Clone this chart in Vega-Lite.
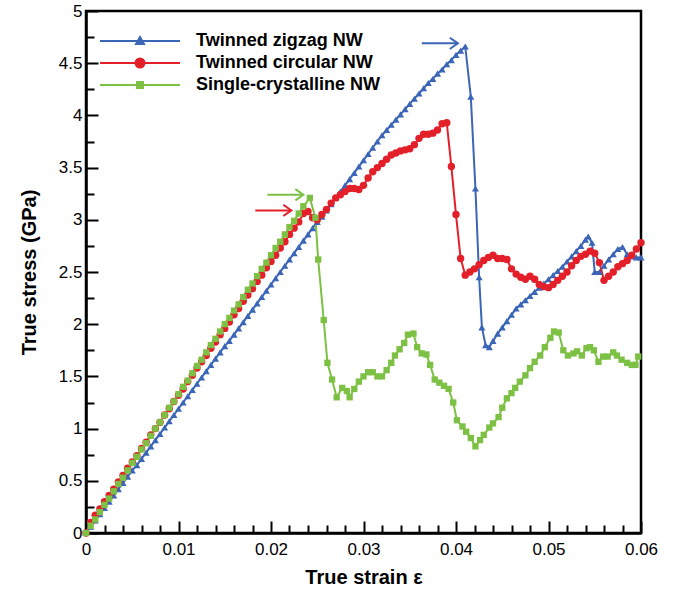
{
"$schema": "https://vega.github.io/schema/vega-lite/v6.json",
"width": 555, "height": 522,
"autosize": {"type": "none"},
"padding": {"left": 86, "top": 11, "right": 36, "bottom": 56},
"background": "white",
"config": {"view": {"stroke": "black", "strokeWidth": 2.5}, "font": "Liberation Sans"},
"datasets": {
"arrows": [
{"series":"Twinned zigzag NW","x1":0.0363,"x2":0.0402,"y":4.69},
{"series":"Twinned circular NW","x1":0.0183,"x2":0.0222,"y":3.09},
{"series":"Single-crystalline NW","x1":0.0196,"x2":0.0235,"y":3.24}
],
"curves": [
{"series":"Twinned zigzag NW","strain":0,"stress":0},
{"series":"Twinned zigzag NW","strain":0.0005,"stress":0.06},
{"series":"Twinned zigzag NW","strain":0.001,"stress":0.12},
{"series":"Twinned zigzag NW","strain":0.0015,"stress":0.18},
{"series":"Twinned zigzag NW","strain":0.002,"stress":0.24},
{"series":"Twinned zigzag NW","strain":0.0025,"stress":0.30},
{"series":"Twinned zigzag NW","strain":0.003,"stress":0.36},
{"series":"Twinned zigzag NW","strain":0.0035,"stress":0.42},
{"series":"Twinned zigzag NW","strain":0.004,"stress":0.48},
{"series":"Twinned zigzag NW","strain":0.0045,"stress":0.54},
{"series":"Twinned zigzag NW","strain":0.005,"stress":0.60},
{"series":"Twinned zigzag NW","strain":0.0055,"stress":0.65},
{"series":"Twinned zigzag NW","strain":0.006,"stress":0.71},
{"series":"Twinned zigzag NW","strain":0.0065,"stress":0.77},
{"series":"Twinned zigzag NW","strain":0.007,"stress":0.83},
{"series":"Twinned zigzag NW","strain":0.0075,"stress":0.89},
{"series":"Twinned zigzag NW","strain":0.008,"stress":0.95},
{"series":"Twinned zigzag NW","strain":0.0085,"stress":1.01},
{"series":"Twinned zigzag NW","strain":0.009,"stress":1.07},
{"series":"Twinned zigzag NW","strain":0.0095,"stress":1.13},
{"series":"Twinned zigzag NW","strain":0.01,"stress":1.19},
{"series":"Twinned zigzag NW","strain":0.0105,"stress":1.25},
{"series":"Twinned zigzag NW","strain":0.011,"stress":1.31},
{"series":"Twinned zigzag NW","strain":0.0115,"stress":1.37},
{"series":"Twinned zigzag NW","strain":0.012,"stress":1.43},
{"series":"Twinned zigzag NW","strain":0.0125,"stress":1.49},
{"series":"Twinned zigzag NW","strain":0.013,"stress":1.55},
{"series":"Twinned zigzag NW","strain":0.0135,"stress":1.61},
{"series":"Twinned zigzag NW","strain":0.014,"stress":1.67},
{"series":"Twinned zigzag NW","strain":0.0145,"stress":1.73},
{"series":"Twinned zigzag NW","strain":0.015,"stress":1.79},
{"series":"Twinned zigzag NW","strain":0.0155,"stress":1.84},
{"series":"Twinned zigzag NW","strain":0.016,"stress":1.90},
{"series":"Twinned zigzag NW","strain":0.0165,"stress":1.96},
{"series":"Twinned zigzag NW","strain":0.017,"stress":2.02},
{"series":"Twinned zigzag NW","strain":0.0175,"stress":2.08},
{"series":"Twinned zigzag NW","strain":0.018,"stress":2.14},
{"series":"Twinned zigzag NW","strain":0.0185,"stress":2.20},
{"series":"Twinned zigzag NW","strain":0.019,"stress":2.26},
{"series":"Twinned zigzag NW","strain":0.0195,"stress":2.32},
{"series":"Twinned zigzag NW","strain":0.02,"stress":2.38},
{"series":"Twinned zigzag NW","strain":0.0205,"stress":2.44},
{"series":"Twinned zigzag NW","strain":0.021,"stress":2.50},
{"series":"Twinned zigzag NW","strain":0.0215,"stress":2.56},
{"series":"Twinned zigzag NW","strain":0.022,"stress":2.62},
{"series":"Twinned zigzag NW","strain":0.0225,"stress":2.68},
{"series":"Twinned zigzag NW","strain":0.023,"stress":2.74},
{"series":"Twinned zigzag NW","strain":0.0235,"stress":2.80},
{"series":"Twinned zigzag NW","strain":0.024,"stress":2.86},
{"series":"Twinned zigzag NW","strain":0.0245,"stress":2.92},
{"series":"Twinned zigzag NW","strain":0.025,"stress":2.98},
{"series":"Twinned zigzag NW","strain":0.0255,"stress":3.03},
{"series":"Twinned zigzag NW","strain":0.026,"stress":3.09},
{"series":"Twinned zigzag NW","strain":0.0265,"stress":3.15},
{"series":"Twinned zigzag NW","strain":0.027,"stress":3.21},
{"series":"Twinned zigzag NW","strain":0.0275,"stress":3.27},
{"series":"Twinned zigzag NW","strain":0.028,"stress":3.33},
{"series":"Twinned zigzag NW","strain":0.0285,"stress":3.39},
{"series":"Twinned zigzag NW","strain":0.029,"stress":3.45},
{"series":"Twinned zigzag NW","strain":0.0295,"stress":3.51},
{"series":"Twinned zigzag NW","strain":0.03,"stress":3.57},
{"series":"Twinned zigzag NW","strain":0.0305,"stress":3.63},
{"series":"Twinned zigzag NW","strain":0.031,"stress":3.69},
{"series":"Twinned zigzag NW","strain":0.0315,"stress":3.75},
{"series":"Twinned zigzag NW","strain":0.032,"stress":3.81},
{"series":"Twinned zigzag NW","strain":0.0325,"stress":3.86},
{"series":"Twinned zigzag NW","strain":0.033,"stress":3.91},
{"series":"Twinned zigzag NW","strain":0.0335,"stress":3.96},
{"series":"Twinned zigzag NW","strain":0.034,"stress":4.01},
{"series":"Twinned zigzag NW","strain":0.0345,"stress":4.06},
{"series":"Twinned zigzag NW","strain":0.035,"stress":4.11},
{"series":"Twinned zigzag NW","strain":0.0355,"stress":4.16},
{"series":"Twinned zigzag NW","strain":0.036,"stress":4.21},
{"series":"Twinned zigzag NW","strain":0.0365,"stress":4.26},
{"series":"Twinned zigzag NW","strain":0.037,"stress":4.31},
{"series":"Twinned zigzag NW","strain":0.0375,"stress":4.35},
{"series":"Twinned zigzag NW","strain":0.038,"stress":4.40},
{"series":"Twinned zigzag NW","strain":0.0385,"stress":4.44},
{"series":"Twinned zigzag NW","strain":0.039,"stress":4.49},
{"series":"Twinned zigzag NW","strain":0.0395,"stress":4.53},
{"series":"Twinned zigzag NW","strain":0.04,"stress":4.58},
{"series":"Twinned zigzag NW","strain":0.0405,"stress":4.62},
{"series":"Twinned zigzag NW","strain":0.041,"stress":4.66},
{"series":"Twinned zigzag NW","strain":0.0416,"stress":4.18},
{"series":"Twinned zigzag NW","strain":0.0421,"stress":3.30},
{"series":"Twinned zigzag NW","strain":0.0425,"stress":2.45},
{"series":"Twinned zigzag NW","strain":0.0428,"stress":1.97},
{"series":"Twinned zigzag NW","strain":0.0432,"stress":1.80},
{"series":"Twinned zigzag NW","strain":0.0436,"stress":1.78},
{"series":"Twinned zigzag NW","strain":0.044,"stress":1.84},
{"series":"Twinned zigzag NW","strain":0.0445,"stress":1.91},
{"series":"Twinned zigzag NW","strain":0.045,"stress":1.97},
{"series":"Twinned zigzag NW","strain":0.0455,"stress":2.03},
{"series":"Twinned zigzag NW","strain":0.046,"stress":2.09},
{"series":"Twinned zigzag NW","strain":0.0465,"stress":2.15},
{"series":"Twinned zigzag NW","strain":0.047,"stress":2.19},
{"series":"Twinned zigzag NW","strain":0.0475,"stress":2.23},
{"series":"Twinned zigzag NW","strain":0.048,"stress":2.27},
{"series":"Twinned zigzag NW","strain":0.0485,"stress":2.31},
{"series":"Twinned zigzag NW","strain":0.049,"stress":2.35},
{"series":"Twinned zigzag NW","strain":0.0495,"stress":2.39},
{"series":"Twinned zigzag NW","strain":0.05,"stress":2.43},
{"series":"Twinned zigzag NW","strain":0.0505,"stress":2.47},
{"series":"Twinned zigzag NW","strain":0.051,"stress":2.51},
{"series":"Twinned zigzag NW","strain":0.0515,"stress":2.55},
{"series":"Twinned zigzag NW","strain":0.052,"stress":2.60},
{"series":"Twinned zigzag NW","strain":0.0525,"stress":2.65},
{"series":"Twinned zigzag NW","strain":0.053,"stress":2.70},
{"series":"Twinned zigzag NW","strain":0.0535,"stress":2.75},
{"series":"Twinned zigzag NW","strain":0.054,"stress":2.81},
{"series":"Twinned zigzag NW","strain":0.0543,"stress":2.84},
{"series":"Twinned zigzag NW","strain":0.0547,"stress":2.78},
{"series":"Twinned zigzag NW","strain":0.055,"stress":2.50},
{"series":"Twinned zigzag NW","strain":0.0555,"stress":2.50},
{"series":"Twinned zigzag NW","strain":0.056,"stress":2.56},
{"series":"Twinned zigzag NW","strain":0.0565,"stress":2.62},
{"series":"Twinned zigzag NW","strain":0.057,"stress":2.67},
{"series":"Twinned zigzag NW","strain":0.0575,"stress":2.72},
{"series":"Twinned zigzag NW","strain":0.058,"stress":2.74},
{"series":"Twinned zigzag NW","strain":0.0585,"stress":2.67},
{"series":"Twinned zigzag NW","strain":0.059,"stress":2.65},
{"series":"Twinned zigzag NW","strain":0.0595,"stress":2.64},
{"series":"Twinned zigzag NW","strain":0.06,"stress":2.64},
{"series":"Twinned circular NW","strain":0,"stress":0},
{"series":"Twinned circular NW","strain":0.0005,"stress":0.10},
{"series":"Twinned circular NW","strain":0.001,"stress":0.17},
{"series":"Twinned circular NW","strain":0.0015,"stress":0.23},
{"series":"Twinned circular NW","strain":0.002,"stress":0.30},
{"series":"Twinned circular NW","strain":0.0025,"stress":0.36},
{"series":"Twinned circular NW","strain":0.003,"stress":0.42},
{"series":"Twinned circular NW","strain":0.0035,"stress":0.49},
{"series":"Twinned circular NW","strain":0.004,"stress":0.55},
{"series":"Twinned circular NW","strain":0.0045,"stress":0.62},
{"series":"Twinned circular NW","strain":0.005,"stress":0.68},
{"series":"Twinned circular NW","strain":0.0055,"stress":0.74},
{"series":"Twinned circular NW","strain":0.006,"stress":0.81},
{"series":"Twinned circular NW","strain":0.0065,"stress":0.87},
{"series":"Twinned circular NW","strain":0.007,"stress":0.94},
{"series":"Twinned circular NW","strain":0.0075,"stress":1.00},
{"series":"Twinned circular NW","strain":0.008,"stress":1.06},
{"series":"Twinned circular NW","strain":0.0085,"stress":1.13},
{"series":"Twinned circular NW","strain":0.009,"stress":1.19},
{"series":"Twinned circular NW","strain":0.0095,"stress":1.26},
{"series":"Twinned circular NW","strain":0.01,"stress":1.32},
{"series":"Twinned circular NW","strain":0.0105,"stress":1.38},
{"series":"Twinned circular NW","strain":0.011,"stress":1.45},
{"series":"Twinned circular NW","strain":0.0115,"stress":1.51},
{"series":"Twinned circular NW","strain":0.012,"stress":1.58},
{"series":"Twinned circular NW","strain":0.0125,"stress":1.64},
{"series":"Twinned circular NW","strain":0.013,"stress":1.70},
{"series":"Twinned circular NW","strain":0.0135,"stress":1.77},
{"series":"Twinned circular NW","strain":0.014,"stress":1.83},
{"series":"Twinned circular NW","strain":0.0145,"stress":1.90},
{"series":"Twinned circular NW","strain":0.015,"stress":1.96},
{"series":"Twinned circular NW","strain":0.0155,"stress":2.02},
{"series":"Twinned circular NW","strain":0.016,"stress":2.09},
{"series":"Twinned circular NW","strain":0.0165,"stress":2.15},
{"series":"Twinned circular NW","strain":0.017,"stress":2.22},
{"series":"Twinned circular NW","strain":0.0175,"stress":2.28},
{"series":"Twinned circular NW","strain":0.018,"stress":2.34},
{"series":"Twinned circular NW","strain":0.0185,"stress":2.41},
{"series":"Twinned circular NW","strain":0.019,"stress":2.47},
{"series":"Twinned circular NW","strain":0.0195,"stress":2.54},
{"series":"Twinned circular NW","strain":0.02,"stress":2.60},
{"series":"Twinned circular NW","strain":0.0205,"stress":2.66},
{"series":"Twinned circular NW","strain":0.021,"stress":2.73},
{"series":"Twinned circular NW","strain":0.0215,"stress":2.79},
{"series":"Twinned circular NW","strain":0.022,"stress":2.86},
{"series":"Twinned circular NW","strain":0.0225,"stress":2.92},
{"series":"Twinned circular NW","strain":0.023,"stress":2.98},
{"series":"Twinned circular NW","strain":0.0235,"stress":3.06},
{"series":"Twinned circular NW","strain":0.024,"stress":3.08},
{"series":"Twinned circular NW","strain":0.0245,"stress":3.02},
{"series":"Twinned circular NW","strain":0.025,"stress":3.00},
{"series":"Twinned circular NW","strain":0.0255,"stress":3.05},
{"series":"Twinned circular NW","strain":0.026,"stress":3.10},
{"series":"Twinned circular NW","strain":0.0265,"stress":3.16},
{"series":"Twinned circular NW","strain":0.027,"stress":3.21},
{"series":"Twinned circular NW","strain":0.0275,"stress":3.24},
{"series":"Twinned circular NW","strain":0.028,"stress":3.27},
{"series":"Twinned circular NW","strain":0.0285,"stress":3.30},
{"series":"Twinned circular NW","strain":0.029,"stress":3.30},
{"series":"Twinned circular NW","strain":0.0295,"stress":3.29},
{"series":"Twinned circular NW","strain":0.03,"stress":3.33},
{"series":"Twinned circular NW","strain":0.0305,"stress":3.40},
{"series":"Twinned circular NW","strain":0.031,"stress":3.46},
{"series":"Twinned circular NW","strain":0.0315,"stress":3.50},
{"series":"Twinned circular NW","strain":0.032,"stress":3.54},
{"series":"Twinned circular NW","strain":0.0325,"stress":3.58},
{"series":"Twinned circular NW","strain":0.033,"stress":3.62},
{"series":"Twinned circular NW","strain":0.0335,"stress":3.64},
{"series":"Twinned circular NW","strain":0.034,"stress":3.66},
{"series":"Twinned circular NW","strain":0.0345,"stress":3.67},
{"series":"Twinned circular NW","strain":0.035,"stress":3.68},
{"series":"Twinned circular NW","strain":0.0355,"stress":3.72},
{"series":"Twinned circular NW","strain":0.036,"stress":3.78},
{"series":"Twinned circular NW","strain":0.0365,"stress":3.82},
{"series":"Twinned circular NW","strain":0.037,"stress":3.82},
{"series":"Twinned circular NW","strain":0.0375,"stress":3.83},
{"series":"Twinned circular NW","strain":0.038,"stress":3.86},
{"series":"Twinned circular NW","strain":0.0385,"stress":3.92},
{"series":"Twinned circular NW","strain":0.039,"stress":3.93},
{"series":"Twinned circular NW","strain":0.0395,"stress":3.51},
{"series":"Twinned circular NW","strain":0.04,"stress":3.05},
{"series":"Twinned circular NW","strain":0.0405,"stress":2.63},
{"series":"Twinned circular NW","strain":0.041,"stress":2.47},
{"series":"Twinned circular NW","strain":0.0415,"stress":2.50},
{"series":"Twinned circular NW","strain":0.042,"stress":2.53},
{"series":"Twinned circular NW","strain":0.0425,"stress":2.57},
{"series":"Twinned circular NW","strain":0.043,"stress":2.61},
{"series":"Twinned circular NW","strain":0.0435,"stress":2.64},
{"series":"Twinned circular NW","strain":0.044,"stress":2.66},
{"series":"Twinned circular NW","strain":0.0445,"stress":2.63},
{"series":"Twinned circular NW","strain":0.045,"stress":2.63},
{"series":"Twinned circular NW","strain":0.0455,"stress":2.62},
{"series":"Twinned circular NW","strain":0.046,"stress":2.53},
{"series":"Twinned circular NW","strain":0.0465,"stress":2.48},
{"series":"Twinned circular NW","strain":0.047,"stress":2.45},
{"series":"Twinned circular NW","strain":0.0475,"stress":2.43},
{"series":"Twinned circular NW","strain":0.048,"stress":2.46},
{"series":"Twinned circular NW","strain":0.0485,"stress":2.43},
{"series":"Twinned circular NW","strain":0.049,"stress":2.38},
{"series":"Twinned circular NW","strain":0.0495,"stress":2.36},
{"series":"Twinned circular NW","strain":0.05,"stress":2.35},
{"series":"Twinned circular NW","strain":0.0505,"stress":2.38},
{"series":"Twinned circular NW","strain":0.051,"stress":2.42},
{"series":"Twinned circular NW","strain":0.0515,"stress":2.46},
{"series":"Twinned circular NW","strain":0.052,"stress":2.50},
{"series":"Twinned circular NW","strain":0.0525,"stress":2.56},
{"series":"Twinned circular NW","strain":0.053,"stress":2.61},
{"series":"Twinned circular NW","strain":0.0535,"stress":2.65},
{"series":"Twinned circular NW","strain":0.054,"stress":2.67},
{"series":"Twinned circular NW","strain":0.0545,"stress":2.70},
{"series":"Twinned circular NW","strain":0.055,"stress":2.68},
{"series":"Twinned circular NW","strain":0.0555,"stress":2.59},
{"series":"Twinned circular NW","strain":0.056,"stress":2.42},
{"series":"Twinned circular NW","strain":0.0565,"stress":2.46},
{"series":"Twinned circular NW","strain":0.057,"stress":2.50},
{"series":"Twinned circular NW","strain":0.0575,"stress":2.55},
{"series":"Twinned circular NW","strain":0.058,"stress":2.58},
{"series":"Twinned circular NW","strain":0.0585,"stress":2.61},
{"series":"Twinned circular NW","strain":0.059,"stress":2.66},
{"series":"Twinned circular NW","strain":0.0595,"stress":2.72},
{"series":"Twinned circular NW","strain":0.06,"stress":2.78},
{"series":"Single-crystalline NW","strain":0,"stress":0},
{"series":"Single-crystalline NW","strain":0.0005,"stress":0.07},
{"series":"Single-crystalline NW","strain":0.001,"stress":0.13},
{"series":"Single-crystalline NW","strain":0.0015,"stress":0.20},
{"series":"Single-crystalline NW","strain":0.002,"stress":0.27},
{"series":"Single-crystalline NW","strain":0.0025,"stress":0.33},
{"series":"Single-crystalline NW","strain":0.003,"stress":0.40},
{"series":"Single-crystalline NW","strain":0.0035,"stress":0.47},
{"series":"Single-crystalline NW","strain":0.004,"stress":0.53},
{"series":"Single-crystalline NW","strain":0.0045,"stress":0.60},
{"series":"Single-crystalline NW","strain":0.005,"stress":0.67},
{"series":"Single-crystalline NW","strain":0.0055,"stress":0.73},
{"series":"Single-crystalline NW","strain":0.006,"stress":0.80},
{"series":"Single-crystalline NW","strain":0.0065,"stress":0.86},
{"series":"Single-crystalline NW","strain":0.007,"stress":0.93},
{"series":"Single-crystalline NW","strain":0.0075,"stress":1.00},
{"series":"Single-crystalline NW","strain":0.008,"stress":1.06},
{"series":"Single-crystalline NW","strain":0.0085,"stress":1.13},
{"series":"Single-crystalline NW","strain":0.009,"stress":1.20},
{"series":"Single-crystalline NW","strain":0.0095,"stress":1.26},
{"series":"Single-crystalline NW","strain":0.01,"stress":1.33},
{"series":"Single-crystalline NW","strain":0.0105,"stress":1.40},
{"series":"Single-crystalline NW","strain":0.011,"stress":1.46},
{"series":"Single-crystalline NW","strain":0.0115,"stress":1.53},
{"series":"Single-crystalline NW","strain":0.012,"stress":1.60},
{"series":"Single-crystalline NW","strain":0.0125,"stress":1.66},
{"series":"Single-crystalline NW","strain":0.013,"stress":1.73},
{"series":"Single-crystalline NW","strain":0.0135,"stress":1.80},
{"series":"Single-crystalline NW","strain":0.014,"stress":1.86},
{"series":"Single-crystalline NW","strain":0.0145,"stress":1.93},
{"series":"Single-crystalline NW","strain":0.015,"stress":2.00},
{"series":"Single-crystalline NW","strain":0.0155,"stress":2.06},
{"series":"Single-crystalline NW","strain":0.016,"stress":2.13},
{"series":"Single-crystalline NW","strain":0.0165,"stress":2.19},
{"series":"Single-crystalline NW","strain":0.017,"stress":2.26},
{"series":"Single-crystalline NW","strain":0.0175,"stress":2.33},
{"series":"Single-crystalline NW","strain":0.018,"stress":2.39},
{"series":"Single-crystalline NW","strain":0.0185,"stress":2.46},
{"series":"Single-crystalline NW","strain":0.019,"stress":2.53},
{"series":"Single-crystalline NW","strain":0.0195,"stress":2.59},
{"series":"Single-crystalline NW","strain":0.02,"stress":2.66},
{"series":"Single-crystalline NW","strain":0.0205,"stress":2.73},
{"series":"Single-crystalline NW","strain":0.021,"stress":2.79},
{"series":"Single-crystalline NW","strain":0.0215,"stress":2.86},
{"series":"Single-crystalline NW","strain":0.022,"stress":2.93},
{"series":"Single-crystalline NW","strain":0.0225,"stress":2.99},
{"series":"Single-crystalline NW","strain":0.023,"stress":3.06},
{"series":"Single-crystalline NW","strain":0.0235,"stress":3.13},
{"series":"Single-crystalline NW","strain":0.0242,"stress":3.21},
{"series":"Single-crystalline NW","strain":0.0248,"stress":3.02},
{"series":"Single-crystalline NW","strain":0.0251,"stress":2.62},
{"series":"Single-crystalline NW","strain":0.0257,"stress":2.04},
{"series":"Single-crystalline NW","strain":0.0261,"stress":1.63},
{"series":"Single-crystalline NW","strain":0.0266,"stress":1.47},
{"series":"Single-crystalline NW","strain":0.0271,"stress":1.30},
{"series":"Single-crystalline NW","strain":0.0277,"stress":1.39},
{"series":"Single-crystalline NW","strain":0.0282,"stress":1.36},
{"series":"Single-crystalline NW","strain":0.0285,"stress":1.30},
{"series":"Single-crystalline NW","strain":0.029,"stress":1.38},
{"series":"Single-crystalline NW","strain":0.0295,"stress":1.45},
{"series":"Single-crystalline NW","strain":0.03,"stress":1.50},
{"series":"Single-crystalline NW","strain":0.0305,"stress":1.54},
{"series":"Single-crystalline NW","strain":0.031,"stress":1.54},
{"series":"Single-crystalline NW","strain":0.0315,"stress":1.50},
{"series":"Single-crystalline NW","strain":0.032,"stress":1.50},
{"series":"Single-crystalline NW","strain":0.0325,"stress":1.56},
{"series":"Single-crystalline NW","strain":0.033,"stress":1.63},
{"series":"Single-crystalline NW","strain":0.0334,"stress":1.70},
{"series":"Single-crystalline NW","strain":0.0339,"stress":1.76},
{"series":"Single-crystalline NW","strain":0.0344,"stress":1.82},
{"series":"Single-crystalline NW","strain":0.0348,"stress":1.90},
{"series":"Single-crystalline NW","strain":0.0354,"stress":1.91},
{"series":"Single-crystalline NW","strain":0.0358,"stress":1.78},
{"series":"Single-crystalline NW","strain":0.0363,"stress":1.72},
{"series":"Single-crystalline NW","strain":0.0368,"stress":1.71},
{"series":"Single-crystalline NW","strain":0.0372,"stress":1.61},
{"series":"Single-crystalline NW","strain":0.0377,"stress":1.47},
{"series":"Single-crystalline NW","strain":0.0382,"stress":1.44},
{"series":"Single-crystalline NW","strain":0.0387,"stress":1.41},
{"series":"Single-crystalline NW","strain":0.0392,"stress":1.38},
{"series":"Single-crystalline NW","strain":0.0397,"stress":1.25},
{"series":"Single-crystalline NW","strain":0.0401,"stress":1.08},
{"series":"Single-crystalline NW","strain":0.0407,"stress":1.02},
{"series":"Single-crystalline NW","strain":0.0411,"stress":0.97},
{"series":"Single-crystalline NW","strain":0.0416,"stress":0.91},
{"series":"Single-crystalline NW","strain":0.0421,"stress":0.83},
{"series":"Single-crystalline NW","strain":0.0426,"stress":0.89},
{"series":"Single-crystalline NW","strain":0.043,"stress":0.94},
{"series":"Single-crystalline NW","strain":0.0436,"stress":1.01},
{"series":"Single-crystalline NW","strain":0.044,"stress":1.05},
{"series":"Single-crystalline NW","strain":0.0446,"stress":1.11},
{"series":"Single-crystalline NW","strain":0.045,"stress":1.20},
{"series":"Single-crystalline NW","strain":0.0455,"stress":1.29},
{"series":"Single-crystalline NW","strain":0.046,"stress":1.34},
{"series":"Single-crystalline NW","strain":0.0464,"stress":1.39},
{"series":"Single-crystalline NW","strain":0.0469,"stress":1.45},
{"series":"Single-crystalline NW","strain":0.0475,"stress":1.51},
{"series":"Single-crystalline NW","strain":0.048,"stress":1.58},
{"series":"Single-crystalline NW","strain":0.0485,"stress":1.64},
{"series":"Single-crystalline NW","strain":0.0491,"stress":1.70},
{"series":"Single-crystalline NW","strain":0.0496,"stress":1.78},
{"series":"Single-crystalline NW","strain":0.0502,"stress":1.87},
{"series":"Single-crystalline NW","strain":0.0506,"stress":1.93},
{"series":"Single-crystalline NW","strain":0.0511,"stress":1.92},
{"series":"Single-crystalline NW","strain":0.0516,"stress":1.75},
{"series":"Single-crystalline NW","strain":0.0521,"stress":1.70},
{"series":"Single-crystalline NW","strain":0.0527,"stress":1.72},
{"series":"Single-crystalline NW","strain":0.0531,"stress":1.74},
{"series":"Single-crystalline NW","strain":0.0536,"stress":1.70},
{"series":"Single-crystalline NW","strain":0.0541,"stress":1.77},
{"series":"Single-crystalline NW","strain":0.0545,"stress":1.78},
{"series":"Single-crystalline NW","strain":0.0549,"stress":1.75},
{"series":"Single-crystalline NW","strain":0.0554,"stress":1.64},
{"series":"Single-crystalline NW","strain":0.0559,"stress":1.69},
{"series":"Single-crystalline NW","strain":0.0564,"stress":1.69},
{"series":"Single-crystalline NW","strain":0.057,"stress":1.73},
{"series":"Single-crystalline NW","strain":0.0574,"stress":1.70},
{"series":"Single-crystalline NW","strain":0.0579,"stress":1.66},
{"series":"Single-crystalline NW","strain":0.0585,"stress":1.63},
{"series":"Single-crystalline NW","strain":0.059,"stress":1.61},
{"series":"Single-crystalline NW","strain":0.0594,"stress":1.61},
{"series":"Single-crystalline NW","strain":0.0597,"stress":1.69}
]
},
"layer": [
{
"data": {"name": "curves"},
"transform": [{"filter": "datum.series == 'Twinned zigzag NW'"}],
"mark": {"type": "line", "strokeWidth": 2, "color": "#3b65b6"},
"encoding": {
"x": {"field": "strain", "type": "quantitative", "scale": {"domain": [0, 0.06], "nice": false, "zero": false},
 "axis": {"orient": "bottom", "values": [0, 0.01, 0.02, 0.03, 0.04, 0.05, 0.06], "format": "~g", "grid": false,
  "tickSize": -12, "tickWidth": 2, "tickColor": "black", "domainColor": "black", "domainWidth": 2.5,
  "labelFont": "Liberation Sans", "labelFontSize": 17, "labelColor": "black", "labelPadding": 20, "labelFlush": false, "labelOverlap": false,
  "title": "True strain ε", "titleFont": "Liberation Sans", "titleFontSize": 20, "titleFontWeight": "bold", "titleColor": "black", "titlePadding": 10}},
"y": {"field": "stress", "type": "quantitative", "scale": {"domain": [0, 5], "nice": false},
 "axis": {"orient": "left", "values": [0, 0.5, 1, 1.5, 2, 2.5, 3, 3.5, 4, 4.5, 5], "format": "~g", "grid": false,
  "tickSize": -12, "tickWidth": 2, "tickColor": "black", "domainColor": "black", "domainWidth": 2.5,
  "labelFont": "Liberation Sans", "labelFontSize": 17, "labelColor": "black", "labelPadding": 16, "labelFlush": false, "labelOverlap": false,
  "title": "True stress (GPa)", "titleFont": "Liberation Sans", "titleFontSize": 20, "titleFontWeight": "bold", "titleColor": "black", "titlePadding": 19}}
}
},
{
"data": {"name": "curves"},
"transform": [{"filter": "datum.series == 'Twinned circular NW'"}],
"mark": {"type": "line", "strokeWidth": 2, "color": "#e3202a"},
"encoding": {
"x": {"field": "strain", "type": "quantitative", "axis": null},
"y": {"field": "stress", "type": "quantitative", "axis": null}
}
},
{
"data": {"name": "curves"},
"transform": [{"filter": "datum.series == 'Single-crystalline NW'"}],
"mark": {"type": "line", "strokeWidth": 2, "color": "#7cc143"},
"encoding": {
"x": {"field": "strain", "type": "quantitative", "axis": null},
"y": {"field": "stress", "type": "quantitative", "axis": null}
}
},
{
"data": {"name": "curves"},
"transform": [{"filter": "datum.series == 'Twinned zigzag NW'"}],
"mark": {"type": "point", "shape": "triangle-up", "filled": true, "size": 50, "opacity": 1, "color": "#3b65b6"},
"encoding": {
"x": {"field": "strain", "type": "quantitative", "axis": null},
"y": {"field": "stress", "type": "quantitative", "axis": null}
}
},
{
"data": {"name": "curves"},
"transform": [{"filter": "datum.series == 'Twinned circular NW'"}],
"mark": {"type": "point", "shape": "circle", "filled": true, "size": 55, "opacity": 1, "color": "#e3202a"},
"encoding": {
"x": {"field": "strain", "type": "quantitative", "axis": null},
"y": {"field": "stress", "type": "quantitative", "axis": null}
}
},
{
"data": {"name": "curves"},
"transform": [{"filter": "datum.series == 'Single-crystalline NW'"}],
"mark": {"type": "point", "shape": "square", "filled": true, "size": 40, "opacity": 1, "color": "#7cc143"},
"encoding": {
"x": {"field": "strain", "type": "quantitative", "axis": null},
"y": {"field": "stress", "type": "quantitative", "axis": null}
}
},
{
"data": {"name": "arrows"},
"transform": [{"filter": "datum.series == 'Twinned zigzag NW'"}],
"mark": {"type": "rule", "strokeWidth": 2, "color": "#3b65b6"},
"encoding": {
"x": {"field": "x1", "type": "quantitative", "axis": null},
"x2": {"field": "x2"},
"y": {"field": "y", "type": "quantitative", "axis": null}
}
},
{
"data": {"name": "arrows"},
"transform": [{"filter": "datum.series == 'Twinned circular NW'"}],
"mark": {"type": "rule", "strokeWidth": 2, "color": "#e3202a"},
"encoding": {
"x": {"field": "x1", "type": "quantitative", "axis": null},
"x2": {"field": "x2"},
"y": {"field": "y", "type": "quantitative", "axis": null}
}
},
{
"data": {"name": "arrows"},
"transform": [{"filter": "datum.series == 'Single-crystalline NW'"}],
"mark": {"type": "rule", "strokeWidth": 2, "color": "#7cc143"},
"encoding": {
"x": {"field": "x1", "type": "quantitative", "axis": null},
"x2": {"field": "x2"},
"y": {"field": "y", "type": "quantitative", "axis": null}
}
},
{
"data": {"name": "arrows"},
"transform": [{"filter": "datum.series == 'Twinned zigzag NW'"}],
"mark": {"type": "point", "shape": "M-1,-0.7L0,0L-1,0.7", "filled": false, "size": 256, "strokeWidth": 2, "opacity": 1, "color": "#3b65b6"},
"encoding": {
"x": {"field": "x2", "type": "quantitative", "axis": null},
"y": {"field": "y", "type": "quantitative", "axis": null}
}
},
{
"data": {"name": "arrows"},
"transform": [{"filter": "datum.series == 'Twinned circular NW'"}],
"mark": {"type": "point", "shape": "M-1,-0.7L0,0L-1,0.7", "filled": false, "size": 256, "strokeWidth": 2, "opacity": 1, "color": "#e3202a"},
"encoding": {
"x": {"field": "x2", "type": "quantitative", "axis": null},
"y": {"field": "y", "type": "quantitative", "axis": null}
}
},
{
"data": {"name": "arrows"},
"transform": [{"filter": "datum.series == 'Single-crystalline NW'"}],
"mark": {"type": "point", "shape": "M-1,-0.7L0,0L-1,0.7", "filled": false, "size": 256, "strokeWidth": 2, "opacity": 1, "color": "#7cc143"},
"encoding": {
"x": {"field": "x2", "type": "quantitative", "axis": null},
"y": {"field": "y", "type": "quantitative", "axis": null}
}
},
{
"data": {"name": "curves"},
"transform": [{"filter": "datum.strain > 1"}],
"mark": {"type": "point", "filled": true, "strokeWidth": 2},
"encoding": {
"x": {"field": "strain", "type": "quantitative",
 "axis": {"orient": "bottom", "values": [0.002,0.004,0.006,0.008,0.012,0.014,0.016,0.018,0.022,0.024,0.026,0.028,0.032,0.034,0.036,0.038,0.042,0.044,0.046,0.048,0.052,0.054,0.056,0.058], "labels": false, "domain": false, "grid": false, "tickSize": -8, "tickWidth": 2, "tickColor": "black", "title": null}},
"y": {"field": "stress", "type": "quantitative",
 "axis": {"orient": "left", "values": [0.25,0.75,1.25,1.75,2.25,2.75,3.25,3.75,4.25,4.75], "labels": false, "domain": false, "grid": false, "tickSize": -8, "tickWidth": 2, "tickColor": "black", "title": null}},
"color": {"field": "series", "type": "nominal",
 "scale": {"domain": ["Twinned zigzag NW", "Twinned circular NW", "Single-crystalline NW"], "range": ["#3b65b6", "#e3202a", "#7cc143"]},
 "legend": {"orient": "none", "legendX": 5, "legendY": 21, "title": null, "symbolSize": 100, "symbolStrokeWidth": 2, "symbolOpacity": 1,
  "labelOffset": 87, "labelLimit": 400, "labelFont": "Liberation Sans", "labelFontSize": 18, "labelFontWeight": "bold", "labelColor": "black", "rowPadding": 4}},
"stroke": {"field": "series", "type": "nominal",
 "scale": {"domain": ["Twinned zigzag NW", "Twinned circular NW", "Single-crystalline NW"], "range": ["#3b65b6", "#e3202a", "#7cc143"]},
 "legend": {"orient": "none", "legendX": 5, "legendY": 21, "title": null, "symbolSize": 100, "symbolStrokeWidth": 2, "symbolOpacity": 1,
  "labelOffset": 87, "labelLimit": 400, "labelFont": "Liberation Sans", "labelFontSize": 18, "labelFontWeight": "bold", "labelColor": "black", "rowPadding": 4}},
"shape": {"field": "series", "type": "nominal",
 "scale": {"domain": ["Twinned zigzag NW", "Twinned circular NW", "Single-crystalline NW"],
  "range": ["M0,0H16M7.2,0.6L8,-0.8L8.8,0.6Z", "M0,0H16M7.1,0A0.9,0.9,0,1,1,8.9,0A0.9,0.9,0,1,1,7.1,0Z", "M0,0H16M7.4,-0.6H8.6V0.6H7.4Z"]},
 "legend": {"orient": "none", "legendX": 5, "legendY": 21, "title": null, "symbolSize": 100, "symbolStrokeWidth": 2, "symbolOpacity": 1,
  "labelOffset": 87, "labelLimit": 400, "labelFont": "Liberation Sans", "labelFontSize": 18, "labelFontWeight": "bold", "labelColor": "black", "rowPadding": 4}}
}
}
],
"resolve": {"axis": {"x": "independent", "y": "independent"}}
}
